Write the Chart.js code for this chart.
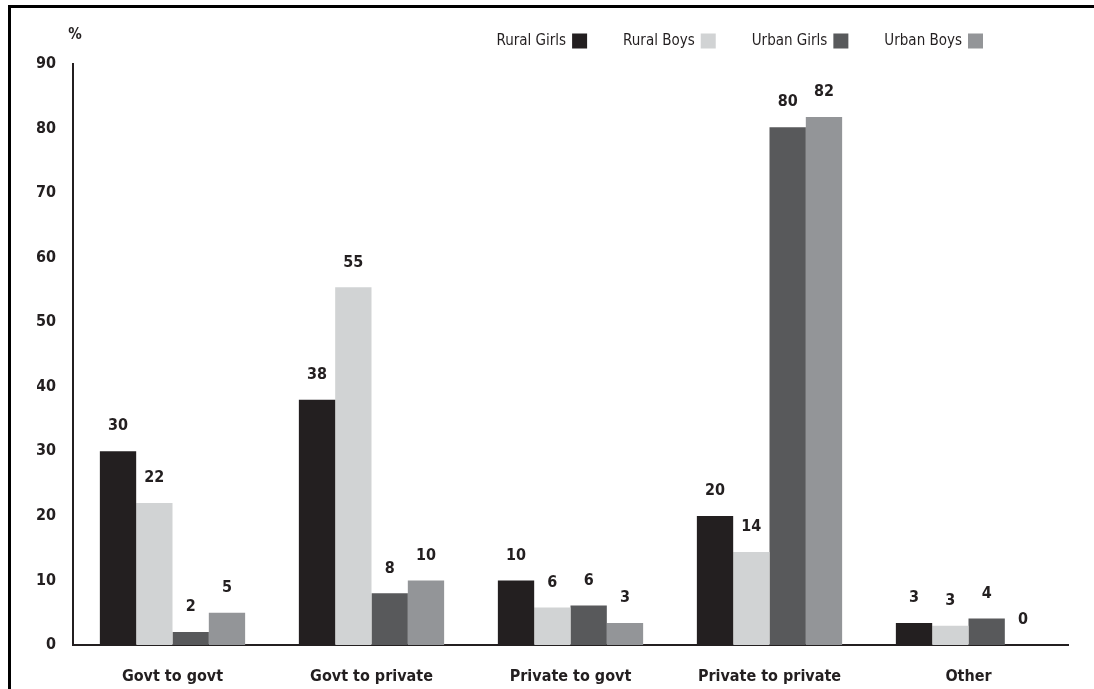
<!DOCTYPE html>
<html><head><meta charset="utf-8">
<script src="https://cdn.jsdelivr.net/npm/chart.js@4.4.1/dist/chart.umd.min.js"></script>
<style>
html,body{margin:0;padding:0;background:#fff;}
#wrap{position:relative;width:1094px;height:689px;overflow:hidden;}
#frameTop{position:absolute;left:8px;top:5px;width:1086px;height:3px;background:#000;}
#frameLeft{position:absolute;left:8px;top:5px;width:3px;height:684px;background:#000;}
canvas{position:absolute;left:0;top:0;}
</style></head><body>
<div id="wrap"><canvas id="c" width="1094" height="689"></canvas><div id="frameTop"></div><div id="frameLeft"></div></div>
<script>
const categories = ['Govt to govt', 'Govt to private', 'Private to govt', 'Private to private', 'Other'];
const seriesNames = ['Rural Girls', 'Rural Boys', 'Urban Girls', 'Urban Boys'];
const ruralGirls = [30, 38, 10, 20, 3.4];
const ruralBoys = [22, 55.4, 5.8, 14.4, 3.0];
const urbanGirls = [2, 8, 6.1, 80.2, 4.1];
const urbanBoys = [5, 10, 3.4, 81.8, 0];
const ruralGirlsLabels = ['30', '38', '10', '20', '3'];
const ruralBoysLabels = ['22', '55', '6', '14', '3'];
const urbanGirlsLabels = ['2', '8', '6', '80', '4'];
const urbanBoysLabels = ['5', '10', '3', '82', '0'];
const yMin = 0, yMax = 90, yStep = 10;
const yAxisTitle = '%';
const colors = ['#231f20', '#d1d3d4', '#58595b', '#939598'];

const FONT = "'DejaVu Sans Condensed', 'DejaVu Sans', sans-serif";
const TEXT = '#231f20';
const valueLabels = [ruralGirlsLabels, ruralBoysLabels, urbanGirlsLabels, urbanBoysLabels];

const labelPlugin = {
  id: 'valueLabels',
  afterDatasetsDraw(chart) {
    const ctx = chart.ctx;
    ctx.save();
    ctx.font = 'bold 16px ' + FONT;
    ctx.fillStyle = TEXT;
    ctx.textAlign = 'center';
    ctx.textBaseline = 'middle';
    chart.data.datasets.forEach((ds, i) => {
      const meta = chart.getDatasetMeta(i);
      meta.data.forEach((bar, j) => {
        ctx.fillText(valueLabels[i][j], bar.x, bar.y - 25);
      });
    });
    ctx.restore();
  }
};

const legendPlugin = {
  id: 'rightLegend',
  afterDraw(chart) {
    const ctx = chart.ctx;
    ctx.save();
    ctx.font = '15px ' + FONT;
    ctx.textBaseline = 'middle';
    ctx.textAlign = 'right';
    const cy = 41, box = 15, gapTB = 6, gapItems = 36;
    let right = 983;
    const ds = chart.data.datasets;
    for (let i = ds.length - 1; i >= 0; i--) {
      ctx.fillStyle = ds[i].backgroundColor;
      ctx.fillRect(right - box, cy - box / 2, box, box);
      ctx.fillStyle = TEXT;
      const tx = right - box - gapTB;
      ctx.fillText(ds[i].label, tx, cy);
      right = tx - ctx.measureText(ds[i].label).width - gapItems;
    }
    ctx.font = 'bold 15px ' + FONT;
    ctx.textAlign = 'center';
    ctx.fillText(yAxisTitle, chart.chartArea.left + 2, 35);
    ctx.restore();
  }
};

const seriesData = [ruralGirls, ruralBoys, urbanGirls, urbanBoys];

new Chart(document.getElementById('c'), {
  type: 'bar',
  data: {
    labels: categories,
    datasets: seriesNames.map((name, i) => ({
      label: name,
      data: seriesData[i],
      backgroundColor: colors[i],
      borderWidth: 0,
      categoryPercentage: 0.73,
      barPercentage: 1.0
    }))
  },
  options: {
    responsive: false,
    animation: false,
    devicePixelRatio: 1,
    layout: { padding: { top: 64, left: 37, right: 26, bottom: 4 } },
    plugins: { legend: { display: false }, tooltip: { enabled: false } },
    scales: {
      x: {
        grid: { display: false, drawTicks: false },
        border: { display: true, color: TEXT, width: 2 },
        ticks: { color: TEXT, padding: 22, maxRotation: 0, minRotation: 0, autoSkip: false,
                 font: { family: FONT, size: 16, weight: 'bold' } },
        afterFit(scale) { scale.height = 40; }
      },
      y: {
        min: yMin, max: yMax,
        grid: { display: false, drawTicks: false },
        border: { display: true, color: TEXT, width: 2 },
        ticks: { stepSize: yStep, color: TEXT, padding: 17, font: { family: FONT, size: 16, weight: 'bold' } },
        afterFit(scale) { scale.width = 36; }
      }
    }
  },
  plugins: [labelPlugin, legendPlugin]
});
</script>
</body></html>
